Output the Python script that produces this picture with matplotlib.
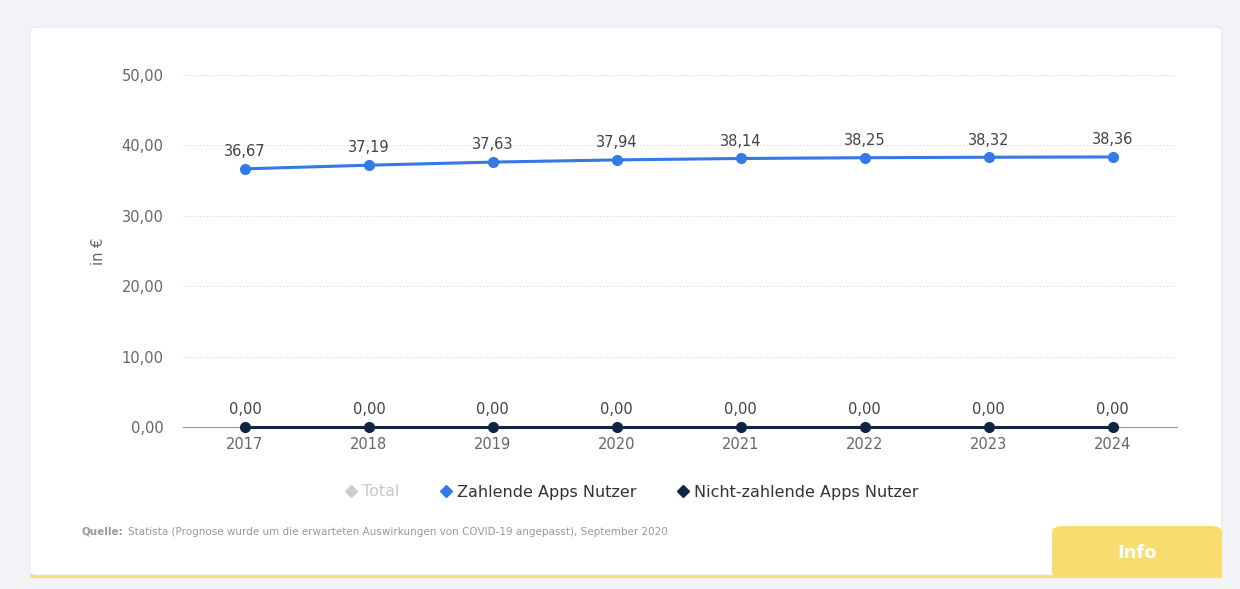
import matplotlib.pyplot as plt
from matplotlib.patches import FancyBboxPatch, Rectangle
from matplotlib.lines import Line2D

jahre = [2017, 2018, 2019, 2020, 2021, 2022, 2023, 2024]
zahlende = [36.67, 37.19, 37.63, 37.94, 38.14, 38.25, 38.32, 38.36]
nicht_zahlende = [0.0, 0.0, 0.0, 0.0, 0.0, 0.0, 0.0, 0.0]
y_ticks = [0, 10, 20, 30, 40, 50]

blau = '#3479e6'
dunkel = '#0f2544'
grau = '#666666'

W, H = 1240, 589
fig = plt.figure(figsize=(W / 100, H / 100), dpi=100)
fig.patch.set_facecolor('#f1f3f6')

# Karte mit gelbem Rand unten und Info-Reiter
fig.patches.append(Rectangle((30 / W, 1 - 578 / H), 1192 / W, 4 / H, transform=fig.transFigure,
                             facecolor='#f7dc6f', edgecolor='none', zorder=-3))
fig.patches.append(FancyBboxPatch((30 / W, 1 - 575 / H), 1192 / W, 548 / H,
                                  boxstyle='round,pad=0,rounding_size=0.006', transform=fig.transFigure,
                                  facecolor='white', edgecolor='#e6e9ee', linewidth=0.8, zorder=-2))
fig.patches.append(FancyBboxPatch((1052 / W, 1 - 578 / H), 170 / W, 52 / H,
                                  boxstyle='round,pad=0,rounding_size=0.01', transform=fig.transFigure,
                                  facecolor='#f7dc6f', edgecolor='none', zorder=-1))
fig.text(1137 / W, 1 - 553 / H, 'Info', color='white', fontsize=13, fontweight='bold',
         ha='center', va='center', zorder=2)

ax = fig.add_axes([183 / W, 1 - 427 / H, 994 / W, 352 / H])
ax.set_facecolor('none')
ax.set_zorder(3)

ax.plot(jahre, zahlende, color=blau, linewidth=2.2, marker='o', markersize=7, zorder=3)
ax.plot(jahre, nicht_zahlende, color=dunkel, linewidth=2.2, marker='o', markersize=7, zorder=4,
        clip_on=False)

for serie in (zahlende, nicht_zahlende):
    for x, y in zip(jahre, serie):
        ax.annotate(f'{y:.2f}'.replace('.', ','), (x, y), xytext=(0, 7), textcoords='offset points',
                    ha='center', va='bottom', fontsize=10.5, color='#444444')

ax.set_xlim(2016.5, 2024.52)
ax.set_ylim(0, 50)
ax.set_xticks(jahre)
ax.set_xticklabels([str(j) for j in jahre])
ax.set_yticks(y_ticks)
ax.set_yticklabels([f'{v:.2f}'.replace('.', ',') for v in y_ticks])
ax.tick_params(axis='both', length=0, labelsize=10.5, colors=grau)
ax.tick_params(axis='x', pad=7)
ax.tick_params(axis='y', pad=14)

for s in ['top', 'right', 'left']:
    ax.spines[s].set_visible(False)
ax.spines['bottom'].set_color('#999999')
ax.spines['bottom'].set_linewidth(0.8)

ax.grid(axis='y', color='#d5d5d5', linestyle=(0, (1, 2)), linewidth=0.8)
ax.set_axisbelow(True)
ax.set_ylabel('in €', fontsize=10.5, color=grau, labelpad=11)

handles = [
    Line2D([], [], color='#cccccc', marker='D', markersize=6, linestyle='none'),
    Line2D([], [], color=blau, marker='D', markersize=6, linestyle='none'),
    Line2D([], [], color=dunkel, marker='D', markersize=6, linestyle='none'),
]
leg = fig.legend(handles, ['Total', 'Zahlende Apps Nutzer', 'Nicht-zahlende Apps Nutzer'],
                 loc='center', bbox_to_anchor=(631 / W, 1 - 492 / H), ncol=3, frameon=False,
                 fontsize=11.5, handletextpad=0.2, columnspacing=2.4, handlelength=1.0)
for t, c in zip(leg.get_texts(), ['#c8c8c8', '#333333', '#333333']):
    t.set_color(c)

# Quellenangabe
quelle = fig.text(82 / W, 1 - 532 / H, 'Quelle:', fontsize=7.5, color='#999999', fontweight='bold',
                  ha='left', va='center')
fig.add_artist(plt.Annotation(
    'Statista (Prognose wurde um die erwarteten Auswirkungen von COVID-19 angepasst), September 2020',
    xy=(1, 0.5), xycoords=quelle, xytext=(3, 0), textcoords='offset points',
    fontsize=7.5, color='#999999', ha='left', va='center'))

fig.savefig('out.png', dpi=100, facecolor=fig.get_facecolor())
